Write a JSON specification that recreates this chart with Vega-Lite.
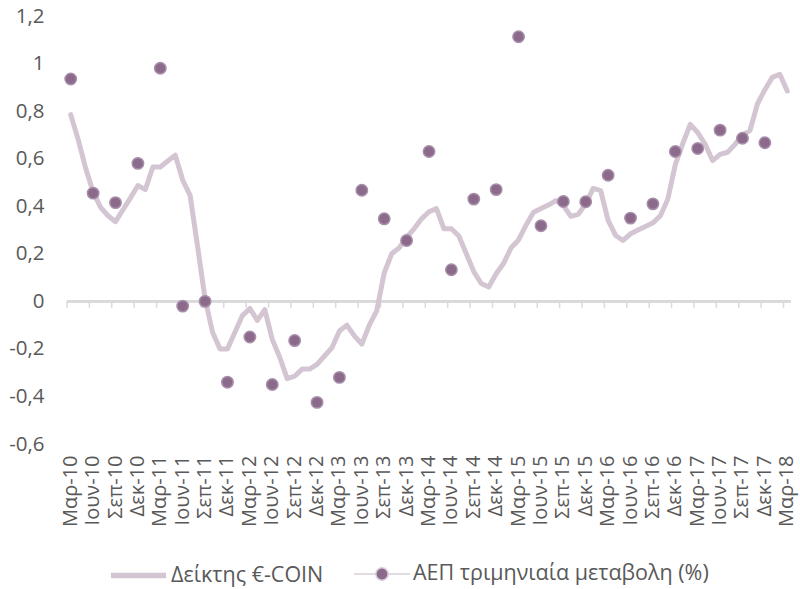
{
  "$schema": "https://vega.github.io/schema/vega-lite/v6.json",
  "width": 724,
  "height": 428,
  "autosize": {"type": "none"},
  "padding": {"left": 67, "top": 16, "right": 9, "bottom": 145},
  "background": "white",
  "config": {
    "font": "Open Sans",
    "view": {"stroke": null},
    "axis": {"labelColor": "#595959", "labelFont": "Open Sans", "grid": false, "domain": false, "ticks": false, "title": null},
    "legend": {"labelColor": "#595959", "labelFont": "Open Sans", "labelFontSize": 21.5, "labelLimit": 600, "title": null, "padding": 0}
  },
  "data": {
    "values": [
      {"m": "Μαρ-10", "coin": 0.785, "gdp": 0.935},
      {"m": "Απρ-10", "coin": 0.68},
      {"m": "Μαϊ-10", "coin": 0.56},
      {"m": "Ιουν-10", "coin": 0.46, "gdp": 0.455},
      {"m": "Ιουλ-10", "coin": 0.395},
      {"m": "Αυγ-10", "coin": 0.36},
      {"m": "Σεπ-10", "coin": 0.335, "gdp": 0.415},
      {"m": "Οκτ-10", "coin": 0.385},
      {"m": "Νοε-10", "coin": 0.435},
      {"m": "Δεκ-10", "coin": 0.487, "gdp": 0.58},
      {"m": "Ιαν-11", "coin": 0.47},
      {"m": "Φεβ-11", "coin": 0.565},
      {"m": "Μαρ-11", "coin": 0.565, "gdp": 0.98},
      {"m": "Απρ-11", "coin": 0.59},
      {"m": "Μαϊ-11", "coin": 0.615},
      {"m": "Ιουν-11", "coin": 0.51, "gdp": -0.02},
      {"m": "Ιουλ-11", "coin": 0.445},
      {"m": "Αυγ-11", "coin": 0.23},
      {"m": "Σεπ-11", "coin": 0.01, "gdp": 0.0},
      {"m": "Οκτ-11", "coin": -0.13},
      {"m": "Νοε-11", "coin": -0.2},
      {"m": "Δεκ-11", "coin": -0.2, "gdp": -0.34},
      {"m": "Ιαν-12", "coin": -0.13},
      {"m": "Φεβ-12", "coin": -0.06},
      {"m": "Μαρ-12", "coin": -0.03, "gdp": -0.15},
      {"m": "Απρ-12", "coin": -0.08},
      {"m": "Μαϊ-12", "coin": -0.035},
      {"m": "Ιουν-12", "coin": -0.16, "gdp": -0.35},
      {"m": "Ιουλ-12", "coin": -0.235},
      {"m": "Αυγ-12", "coin": -0.325},
      {"m": "Σεπ-12", "coin": -0.315, "gdp": -0.165},
      {"m": "Οκτ-12", "coin": -0.285},
      {"m": "Νοε-12", "coin": -0.285},
      {"m": "Δεκ-12", "coin": -0.265, "gdp": -0.425},
      {"m": "Ιαν-13", "coin": -0.23},
      {"m": "Φεβ-13", "coin": -0.195},
      {"m": "Μαρ-13", "coin": -0.125, "gdp": -0.32},
      {"m": "Απρ-13", "coin": -0.1},
      {"m": "Μαϊ-13", "coin": -0.145},
      {"m": "Ιουν-13", "coin": -0.18, "gdp": 0.467},
      {"m": "Ιουλ-13", "coin": -0.1},
      {"m": "Αυγ-13", "coin": -0.04},
      {"m": "Σεπ-13", "coin": 0.12, "gdp": 0.347},
      {"m": "Οκτ-13", "coin": 0.2},
      {"m": "Νοε-13", "coin": 0.225},
      {"m": "Δεκ-13", "coin": 0.27, "gdp": 0.256},
      {"m": "Ιαν-14", "coin": 0.305},
      {"m": "Φεβ-14", "coin": 0.347},
      {"m": "Μαρ-14", "coin": 0.377, "gdp": 0.63},
      {"m": "Απρ-14", "coin": 0.39},
      {"m": "Μαϊ-14", "coin": 0.305},
      {"m": "Ιουν-14", "coin": 0.305, "gdp": 0.133},
      {"m": "Ιουλ-14", "coin": 0.275},
      {"m": "Αυγ-14", "coin": 0.2},
      {"m": "Σεπ-14", "coin": 0.125, "gdp": 0.43},
      {"m": "Οκτ-14", "coin": 0.075},
      {"m": "Νοε-14", "coin": 0.06},
      {"m": "Δεκ-14", "coin": 0.116, "gdp": 0.47},
      {"m": "Ιαν-15", "coin": 0.16},
      {"m": "Φεβ-15", "coin": 0.225},
      {"m": "Μαρ-15", "coin": 0.258, "gdp": 1.113},
      {"m": "Απρ-15", "coin": 0.32},
      {"m": "Μαϊ-15", "coin": 0.375},
      {"m": "Ιουν-15", "coin": 0.39, "gdp": 0.318},
      {"m": "Ιουλ-15", "coin": 0.405},
      {"m": "Αυγ-15", "coin": 0.424},
      {"m": "Σεπ-15", "coin": 0.403, "gdp": 0.42},
      {"m": "Οκτ-15", "coin": 0.357},
      {"m": "Νοε-15", "coin": 0.366},
      {"m": "Δεκ-15", "coin": 0.41, "gdp": 0.419},
      {"m": "Ιαν-16", "coin": 0.475},
      {"m": "Φεβ-16", "coin": 0.466},
      {"m": "Μαρ-16", "coin": 0.34, "gdp": 0.53},
      {"m": "Απρ-16", "coin": 0.277},
      {"m": "Μαϊ-16", "coin": 0.256},
      {"m": "Ιουν-16", "coin": 0.284, "gdp": 0.35},
      {"m": "Ιουλ-16", "coin": 0.3},
      {"m": "Αυγ-16", "coin": 0.315},
      {"m": "Σεπ-16", "coin": 0.33, "gdp": 0.41},
      {"m": "Οκτ-16", "coin": 0.36},
      {"m": "Νοε-16", "coin": 0.43},
      {"m": "Δεκ-16", "coin": 0.575, "gdp": 0.63},
      {"m": "Ιαν-17", "coin": 0.663},
      {"m": "Φεβ-17", "coin": 0.744},
      {"m": "Μαρ-17", "coin": 0.71, "gdp": 0.643},
      {"m": "Απρ-17", "coin": 0.66},
      {"m": "Μαϊ-17", "coin": 0.592},
      {"m": "Ιουν-17", "coin": 0.618, "gdp": 0.72},
      {"m": "Ιουλ-17", "coin": 0.627},
      {"m": "Αυγ-17", "coin": 0.66},
      {"m": "Σεπ-17", "coin": 0.7, "gdp": 0.686},
      {"m": "Οκτ-17", "coin": 0.718},
      {"m": "Νοε-17", "coin": 0.83},
      {"m": "Δεκ-17", "coin": 0.89, "gdp": 0.667},
      {"m": "Ιαν-18", "coin": 0.942},
      {"m": "Φεβ-18", "coin": 0.955},
      {"m": "Μαρ-18", "coin": 0.885}
    ]
  },
  "layer": [
    {
      "mark": {"type": "rule", "color": "#d9d9d9", "strokeWidth": 2},
      "encoding": {"y": {"datum": 0}}
    },
    {
      "mark": {"type": "rule", "color": "#d9d9d9", "strokeWidth": 1.5},
      "encoding": {
        "x": {
          "field": "m", "type": "nominal", "sort": null, "bandPosition": 0,
          "scale": {"type": "band", "paddingInner": 0, "paddingOuter": 0},
          "axis": {
            "orient": "bottom", "labelAngle": -90, "labelFontSize": 20, "labelPadding": 11, "bandPosition": 0.5,
            "values": ["Μαρ-10","Ιουν-10","Σεπ-10","Δεκ-10","Μαρ-11","Ιουν-11","Σεπ-11","Δεκ-11","Μαρ-12","Ιουν-12","Σεπ-12","Δεκ-12","Μαρ-13","Ιουν-13","Σεπ-13","Δεκ-13","Μαρ-14","Ιουν-14","Σεπ-14","Δεκ-14","Μαρ-15","Ιουν-15","Σεπ-15","Δεκ-15","Μαρ-16","Ιουν-16","Σεπ-16","Δεκ-16","Μαρ-17","Ιουν-17","Σεπ-17","Δεκ-17","Μαρ-18"]
          }
        },
        "y": {"datum": 0},
        "y2": {"datum": -0.027},
        "strokeOpacity": {
          "condition": {"test": "indexof(['Μαρ','Ιουν','Σεπ','Δεκ'], split(datum.m, '-')[0]) >= 0", "value": 1},
          "value": 0
        }
      }
    },
    {
      "mark": {"type": "line", "strokeWidth": 5, "strokeCap": "round", "strokeJoin": "round"},
      "encoding": {
        "x": {"field": "m", "type": "nominal", "sort": null, "bandPosition": 0.5},
        "y": {
          "field": "coin", "type": "quantitative",
          "scale": {"domain": [-0.6, 1.2], "nice": false, "zero": false},
          "axis": {
            "values": [-0.6, -0.4, -0.2, 0, 0.2, 0.4, 0.6, 0.8, 1, 1.2],
            "labelExpr": "replace(replace(format(datum.value, '~g'), '.', ','), '−', '-')",
            "labelFontSize": 20.5, "labelPadding": 23
          }
        },
        "stroke": {
          "datum": "Δείκτης €-COIN",
          "scale": {"range": ["#d4c5d3"]},
          "legend": {
            "orient": "none", "legendX": 41, "legendY": 529,
            "symbolType": "stroke", "symbolSize": 3025, "symbolStrokeWidth": 5.5, "labelOffset": 2
          }
        }
      }
    },
    {
      "mark": {"type": "point", "filled": true, "size": 130, "strokeWidth": 1.5, "stroke": "#a88fa9", "opacity": 1},
      "encoding": {
        "x": {"field": "m", "type": "nominal", "sort": null, "bandPosition": 0.5},
        "y": {"field": "gdp", "type": "quantitative"},
        "fill": {
          "datum": "ΑΕΠ τριμηνιαία μεταβολη (%)",
          "scale": {"range": ["#8b6a8c"]},
          "legend": {
            "orient": "none", "legendX": 286, "legendY": 529,
            "symbolType": "M-1,0H-0.22M0.22,0H1M0.22,0A0.22,0.22,0,1,1,-0.22,0A0.22,0.22,0,1,1,0.22,0Z",
            "symbolSize": 3136, "symbolStrokeColor": "#d9cfd9", "symbolStrokeWidth": 1.5, "labelOffset": 2
          }
        }
      }
    }
  ]
}
